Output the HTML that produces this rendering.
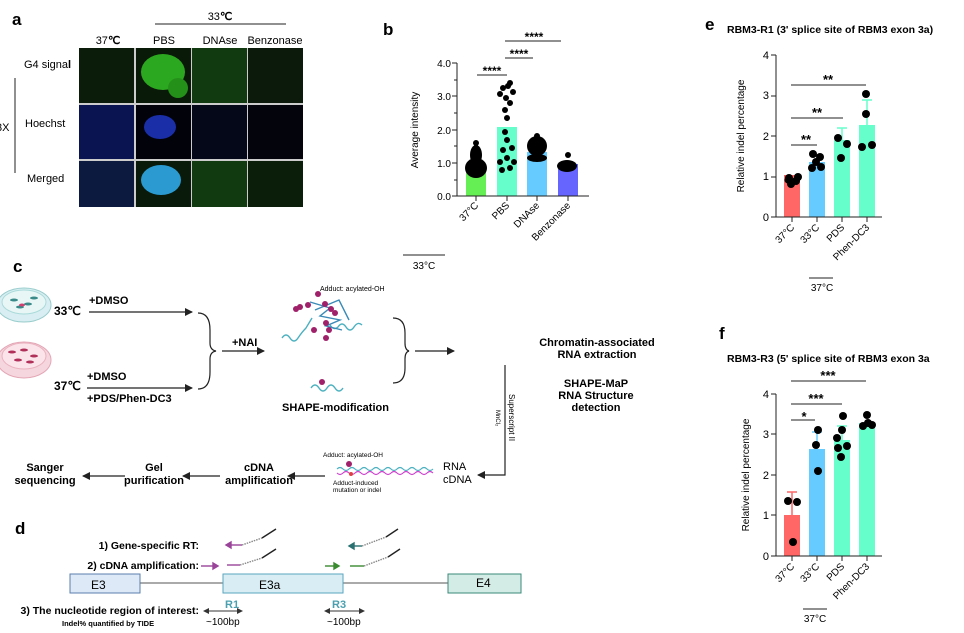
<!DOCTYPE html>
<html><head><meta charset="utf-8"><style>
html,body{margin:0;padding:0;background:#fff}
svg{display:block;font-family:"Liberation Sans",Arial,sans-serif}
.b{font-weight:bold}
</style></head><body>
<svg width="964" height="633" viewBox="0 0 964 633" xmlns="http://www.w3.org/2000/svg">
<defs>
<marker id="ah" markerWidth="8" markerHeight="8" refX="7" refY="4" orient="auto" markerUnits="userSpaceOnUse"><path d="M0,0 L8,4 L0,8 z" fill="#222"/></marker>
<marker id="dh" markerWidth="6" markerHeight="6" refX="5" refY="3" orient="auto-start-reverse" markerUnits="userSpaceOnUse"><path d="M0,0 L6,3 L0,6 z" fill="#333"/></marker>
</defs>

<!-- Panel a -->
<text x="12" y="25" font-size="17" class="b">a</text>
<line x1="155" y1="24" x2="286" y2="24" stroke="#222" stroke-width="1"/>
<text x="220" y="20" font-size="11" text-anchor="middle">33<tspan class="b">℃</tspan></text>
<text x="108" y="44" font-size="11" text-anchor="middle">37<tspan class="b">℃</tspan></text>
<text x="164" y="44" font-size="11" text-anchor="middle">PBS</text>
<text x="220" y="44" font-size="11" text-anchor="middle">DNAse</text>
<text x="275" y="44" font-size="11" text-anchor="middle">Benzonase</text>
<text x="24" y="68" font-size="11">G4 signa<tspan class="b">l</tspan></text>
<text x="25" y="127" font-size="11">Hoechst</text>
<text x="27" y="182" font-size="11">Merged</text>
<line x1="15" y1="78" x2="15" y2="173" stroke="#222"/>
<text x="-4" y="131" font-size="11">3X</text>
<rect x="79" y="48" width="224" height="159" fill="#ccc"/>
<rect x="79" y="48" width="55" height="55" fill="#0c1c0a"/>
<rect x="136" y="48" width="55" height="55" fill="#0a1a08"/>
<ellipse cx="163" cy="72" rx="22" ry="18" fill="#2ca820"/>
<ellipse cx="178" cy="88" rx="10" ry="10" fill="#24901a"/>
<rect x="192" y="48" width="55" height="55" fill="#123a10"/>
<rect x="248" y="48" width="55" height="55" fill="#0b1a0a"/>
<rect x="79" y="105" width="55" height="54" fill="#0a1450"/>
<rect x="136" y="105" width="55" height="54" fill="#02030a"/>
<ellipse cx="160" cy="127" rx="16" ry="12" fill="#1a2ea8"/>
<rect x="192" y="105" width="55" height="54" fill="#050818"/>
<rect x="248" y="105" width="55" height="54" fill="#04050c"/>
<rect x="79" y="161" width="55" height="46" fill="#0c1a40"/>
<rect x="136" y="161" width="55" height="46" fill="#0a1a0a"/>
<ellipse cx="161" cy="180" rx="20" ry="15" fill="#2a9ad0"/>
<rect x="192" y="161" width="55" height="46" fill="#123a10"/>
<rect x="248" y="161" width="55" height="46" fill="#0b1e0a"/>

<!-- Panel b -->
<text x="383" y="35" font-size="17" class="b">b</text>
<g font-size="10" text-anchor="end">
<text x="451" y="67">4.0</text><text x="451" y="100">3.0</text><text x="451" y="134">2.0</text><text x="451" y="167">1.0</text><text x="451" y="200">0.0</text></g>
<text transform="translate(418,130) rotate(-90)" font-size="10" text-anchor="middle">Average intensity</text>
<rect x="466" y="166" width="20" height="30" fill="#66ee55"/>
<rect x="497" y="127" width="20" height="69" fill="#66ffcc"/>
<rect x="527" y="152" width="20" height="44" fill="#66ccff"/>
<rect x="558" y="164" width="20" height="32" fill="#6666ff"/>
<g fill="#000">
<ellipse cx="476" cy="168" rx="11" ry="10"/><ellipse cx="476" cy="155" rx="6" ry="10"/><circle cx="476" cy="143" r="3"/>
<ellipse cx="537" cy="146" rx="10" ry="10"/><circle cx="537" cy="136" r="3"/><ellipse cx="537" cy="158" rx="10" ry="4"/>
<ellipse cx="567" cy="166" rx="10" ry="6"/><circle cx="568" cy="155" r="3"/>
<circle cx="500" cy="162" r="3"/><circle cx="514" cy="162" r="3"/><circle cx="507" cy="158" r="3"/><circle cx="503" cy="150" r="3"/><circle cx="512" cy="148" r="3"/><circle cx="507" cy="140" r="3"/><circle cx="505" cy="132" r="3"/><circle cx="507" cy="118" r="3"/><circle cx="505" cy="110" r="3"/><circle cx="510" cy="103" r="3"/><circle cx="500" cy="94" r="3"/><circle cx="513" cy="92" r="3"/><circle cx="508" cy="86" r="3"/><circle cx="503" cy="88" r="3"/><circle cx="510" cy="83" r="3"/><circle cx="506" cy="98" r="3"/><circle cx="510" cy="168" r="3"/><circle cx="502" cy="170" r="3"/></g>
<line x1="457" y1="63" x2="457" y2="196" stroke="#222"/>
<line x1="452" y1="196" x2="589" y2="196" stroke="#222"/>
<g stroke="#222"><line x1="452" y1="63" x2="457" y2="63"/><line x1="452" y1="96" x2="457" y2="96"/><line x1="452" y1="130" x2="457" y2="130"/><line x1="452" y1="163" x2="457" y2="163"/>
<line x1="454" y1="80" x2="457" y2="80"/><line x1="454" y1="113" x2="457" y2="113"/><line x1="454" y1="146" x2="457" y2="146"/><line x1="454" y1="180" x2="457" y2="180"/>
<line x1="476" y1="196" x2="476" y2="201"/><line x1="507" y1="196" x2="507" y2="201"/><line x1="537" y1="196" x2="537" y2="201"/><line x1="568" y1="196" x2="568" y2="201"/>
<line x1="477" y1="75" x2="507" y2="75"/><line x1="505" y1="58" x2="533" y2="58"/><line x1="505" y1="41" x2="561" y2="41"/>
<line x1="403" y1="255" x2="445" y2="255"/></g>
<g font-size="12" class="b" text-anchor="middle"><text x="492" y="75">****</text><text x="519" y="58">****</text><text x="534" y="41">****</text></g>
<g font-size="10" text-anchor="end">
<text transform="translate(479,206) rotate(-45)">37°C</text>
<text transform="translate(510,206) rotate(-45)">PBS</text>
<text transform="translate(540,206) rotate(-45)">DNAse</text>
<text transform="translate(571,206) rotate(-45)">Benzonase</text></g>
<text x="424" y="269" font-size="10" text-anchor="middle">33°C</text>

<!-- Panel e -->
<text x="705" y="30" font-size="17" class="b">e</text>
<text x="727" y="33" font-size="10.5" class="b">RBM3-R1 (3' splice site of RBM3 exon 3a)</text>
<text transform="translate(744,136) rotate(-90)" font-size="10" text-anchor="middle">Relative indel percentage</text>
<g font-size="11" text-anchor="end"><text x="769" y="59">4</text><text x="769" y="99">3</text><text x="769" y="140">2</text><text x="769" y="180">1</text><text x="769" y="221">0</text></g>
<rect x="784" y="175" width="16" height="42" fill="#ff6666"/>
<rect x="809" y="162" width="16" height="55" fill="#66ccff"/>
<rect x="834" y="140" width="16" height="77" fill="#66ffcc"/>
<rect x="859" y="125" width="16" height="92" fill="#66ffcc"/>
<g stroke="#66ffcc" stroke-width="1.5"><line x1="842" y1="140" x2="842" y2="128"/><line x1="837" y1="128" x2="847" y2="128"/><line x1="867" y1="125" x2="867" y2="100"/><line x1="862" y1="100" x2="872" y2="100"/></g>
<g fill="#000"><circle cx="789" cy="178" r="4"/><circle cx="796" cy="181" r="4"/><circle cx="791" cy="184" r="4"/><circle cx="798" cy="177" r="4"/><circle cx="788" cy="180" r="3.5"/>
<circle cx="813" cy="154" r="4"/><circle cx="820" cy="157" r="4"/><circle cx="812" cy="168" r="4"/><circle cx="821" cy="167" r="4"/><circle cx="816" cy="162" r="4"/>
<circle cx="838" cy="138" r="4"/><circle cx="847" cy="144" r="4"/><circle cx="841" cy="158" r="4"/>
<circle cx="866" cy="94" r="4"/><circle cx="866" cy="114" r="4"/><circle cx="862" cy="147" r="4"/><circle cx="872" cy="145" r="4"/></g>
<g stroke="#222"><line x1="776" y1="55" x2="776" y2="217"/><line x1="771" y1="217" x2="882" y2="217"/>
<line x1="771" y1="55" x2="776" y2="55"/><line x1="771" y1="96" x2="776" y2="96"/><line x1="771" y1="136" x2="776" y2="136"/><line x1="771" y1="177" x2="776" y2="177"/>
<line x1="792" y1="217" x2="792" y2="222"/><line x1="817" y1="217" x2="817" y2="222"/><line x1="842" y1="217" x2="842" y2="222"/><line x1="867" y1="217" x2="867" y2="222"/>
<line x1="791" y1="145" x2="817" y2="145"/><line x1="791" y1="118" x2="843" y2="118"/><line x1="791" y1="85" x2="866" y2="85"/>
<line x1="809" y1="278" x2="833" y2="278"/></g>
<g font-size="13" class="b" text-anchor="middle"><text x="806" y="144">**</text><text x="817" y="117">**</text><text x="828" y="84">**</text></g>
<g font-size="10" text-anchor="end">
<text transform="translate(795,228) rotate(-45)">37°C</text>
<text transform="translate(820,228) rotate(-45)">33°C</text>
<text transform="translate(845,228) rotate(-45)">PDS</text>
<text transform="translate(870,228) rotate(-45)">Phen-DC3</text></g>
<text x="822" y="291" font-size="10" text-anchor="middle">37°C</text>

<!-- Panel f -->
<text x="719" y="339" font-size="17" class="b">f</text>
<text x="727" y="362" font-size="10.5" class="b">RBM3-R3  (5' splice site of RBM3 exon 3a</text>
<text transform="translate(749,475) rotate(-90)" font-size="10" text-anchor="middle">Relative indel percentage</text>
<g font-size="11" text-anchor="end"><text x="769" y="398">4</text><text x="769" y="438">3</text><text x="769" y="479">2</text><text x="769" y="519">1</text><text x="769" y="560">0</text></g>
<rect x="784" y="515" width="16" height="41" fill="#ff6666"/>
<rect x="809" y="449" width="16" height="107" fill="#66ccff"/>
<rect x="834" y="440" width="16" height="116" fill="#66ffcc"/>
<rect x="859" y="423" width="16" height="133" fill="#66ffcc"/>
<g stroke-width="1.5"><line x1="792" y1="515" x2="792" y2="492" stroke="#ff6666"/><line x1="787" y1="492" x2="797" y2="492" stroke="#ff6666"/>
<line x1="817" y1="449" x2="817" y2="432" stroke="#66ccff"/><line x1="812" y1="432" x2="822" y2="432" stroke="#66ccff"/>
<line x1="842" y1="440" x2="842" y2="426" stroke="#66ffcc"/><line x1="837" y1="426" x2="847" y2="426" stroke="#66ffcc"/></g>
<g fill="#000"><circle cx="788" cy="501" r="4"/><circle cx="797" cy="502" r="4"/><circle cx="793" cy="542" r="4"/>
<circle cx="818" cy="430" r="4"/><circle cx="816" cy="445" r="4"/><circle cx="818" cy="471" r="4"/>
<circle cx="843" cy="416" r="4"/><circle cx="842" cy="430" r="4"/><circle cx="837" cy="438" r="4"/><circle cx="847" cy="446" r="4"/><circle cx="838" cy="448" r="4"/><circle cx="841" cy="457" r="4"/>
<circle cx="867" cy="415" r="4"/><circle cx="863" cy="426" r="4"/><circle cx="872" cy="425" r="4"/><circle cx="868" cy="423" r="4"/></g>
<g stroke="#222"><line x1="776" y1="394" x2="776" y2="556"/><line x1="771" y1="556" x2="882" y2="556"/>
<line x1="771" y1="394" x2="776" y2="394"/><line x1="771" y1="434" x2="776" y2="434"/><line x1="771" y1="475" x2="776" y2="475"/><line x1="771" y1="515" x2="776" y2="515"/>
<line x1="792" y1="556" x2="792" y2="561"/><line x1="817" y1="556" x2="817" y2="561"/><line x1="842" y1="556" x2="842" y2="561"/><line x1="867" y1="556" x2="867" y2="561"/>
<line x1="791" y1="420" x2="815" y2="420"/><line x1="791" y1="404" x2="842" y2="404"/><line x1="791" y1="381" x2="866" y2="381"/>
<line x1="803" y1="609" x2="827" y2="609"/></g>
<g font-size="13" class="b" text-anchor="middle"><text x="804" y="421">*</text><text x="816" y="403">***</text><text x="828" y="380">***</text></g>
<g font-size="10" text-anchor="end">
<text transform="translate(795,567) rotate(-45)">37°C</text>
<text transform="translate(820,567) rotate(-45)">33°C</text>
<text transform="translate(845,567) rotate(-45)">PDS</text>
<text transform="translate(870,567) rotate(-45)">Phen-DC3</text></g>
<text x="815" y="622" font-size="10" text-anchor="middle">37°C</text>

<!-- Panel c -->
<text x="13" y="272" font-size="17" class="b">c</text>
<ellipse cx="24" cy="305" rx="27" ry="17" fill="#d8eef2" stroke="#9cc" />
<ellipse cx="24" cy="302" rx="22" ry="12" fill="#e8f6f6" stroke="#aadada"/>
<g fill="#3a8a8a"><ellipse cx="14" cy="300" rx="4" ry="1.5"/><ellipse cx="28" cy="304" rx="4" ry="1.5"/><ellipse cx="34" cy="298" rx="4" ry="1.5"/><ellipse cx="20" cy="307" rx="4" ry="1.5"/></g>
<ellipse cx="22" cy="305" rx="3" ry="1.5" fill="#d04070"/>
<ellipse cx="24" cy="360" rx="27" ry="18" fill="#f6d6de" stroke="#e3a6b6"/>
<ellipse cx="24" cy="356" rx="22" ry="13" fill="#fbe4ea" stroke="#eab2c0"/>
<g fill="#b0305a"><ellipse cx="12" cy="352" rx="4" ry="1.5"/><ellipse cx="24" cy="350" rx="4" ry="1.5"/><ellipse cx="34" cy="356" rx="4" ry="1.5"/><ellipse cx="18" cy="360" rx="4" ry="1.5"/><ellipse cx="30" cy="362" rx="4" ry="1.5"/></g>
<g font-size="12" class="b"><text x="54" y="315">33℃</text><text x="54" y="390">37℃</text></g>
<g font-size="11" class="b"><text x="89" y="304">+DMSO</text><text x="87" y="380">+DMSO</text><text x="87" y="402">+PDS/Phen-DC3</text><text x="232" y="346">+NAI</text></g>
<g stroke="#222" stroke-width="1.2" fill="none">
<line x1="89" y1="312" x2="192" y2="312" marker-end="url(#ah)"/>
<line x1="87" y1="388" x2="192" y2="388" marker-end="url(#ah)"/>
<line x1="222" y1="351" x2="264" y2="351" marker-end="url(#ah)"/>
<line x1="415" y1="351" x2="454" y2="351" marker-end="url(#ah)"/>
<path d="M198,313 Q210,313 210,330 L210,343 Q210,350 216,351 Q210,352 210,359 L210,372 Q210,389 198,389"/>
<path d="M393,318 Q405,318 405,333 L405,343 Q405,350 409,351 Q405,352 405,359 L405,368 Q405,383 393,383"/>
<path d="M505,365 L505,475 L478,475" marker-end="url(#ah)"/>
<line x1="325" y1="476" x2="288" y2="476" marker-end="url(#ah)"/>
<line x1="220" y1="476" x2="183" y2="476" marker-end="url(#ah)"/>
<line x1="125" y1="476" x2="83" y2="476" marker-end="url(#ah)"/>
</g>
<!-- molecule -->
<g fill="none" stroke="#4ab0c0" stroke-width="1.4">
<path d="M282,338 q4,-6 8,0 q4,6 8,0 q4,-6 8,-10 l6,-10"/>
<path d="M330,325 q4,6 8,2 q4,-6 8,0 q4,6 8,0 q4,-6 8,-2"/>
<path d="M310,302 l20,6 l-10,8 l20,4 l-14,6 l16,4 M315,310 l24,-10 l10,20" stroke="#3a8ab8"/>
<path d="M311,388 q4,-6 8,0 q4,6 8,0 q4,-6 8,0 q4,6 8,0"/>
</g>
<g fill="#a0206a"><circle cx="318" cy="294" r="3"/><circle cx="300" cy="307" r="3"/><circle cx="296" cy="309" r="3"/><circle cx="308" cy="305" r="3"/><circle cx="325" cy="304" r="3"/><circle cx="331" cy="309" r="3"/><circle cx="335" cy="313" r="3"/><circle cx="326" cy="323" r="3"/><circle cx="314" cy="330" r="3"/><circle cx="329" cy="330" r="3"/><circle cx="326" cy="338" r="3"/><circle cx="322" cy="382" r="3"/></g>
<text x="320" y="291" font-size="7">Adduct: acylated-OH</text>
<text x="282" y="411" font-size="11" class="b">SHAPE-modification</text>
<g font-size="11" class="b" text-anchor="middle"><text x="597" y="346">Chromatin-associated</text><text x="597" y="358">RNA extraction</text>
<text x="596" y="387">SHAPE-MaP</text><text x="596" y="399">RNA Structure</text><text x="596" y="411">detection</text></g>
<text transform="translate(509,394) rotate(90)" font-size="8">Superscript II</text>
<text transform="translate(496,410) rotate(90)" font-size="6">MnCl₂</text>
<g font-size="11"><text x="443" y="470">RNA</text><text x="443" y="483">cDNA</text></g>
<g fill="none" stroke-width="1.2">
<path d="M337,469 q3,-3 6,0 t6,0 t6,0 t6,0 t6,0 t6,0 t6,0 t6,0 t6,0 t6,0 t6,0 t6,0 t6,0 t6,0 t6,0 t6,0" stroke="#4ab0c0"/>
<path d="M337,473 q3,3 6,0 t6,0 t6,0 t6,0 t6,0 t6,0 t6,0 t6,0 t6,0 t6,0 t6,0 t6,0 t6,0 t6,0 t6,0 t6,0" stroke="#cc44cc"/></g>
<circle cx="349" cy="464" r="3" fill="#a0206a"/><circle cx="351" cy="474" r="2" fill="#e04040"/>
<text x="323" y="457" font-size="6.5">Adduct: acylated-OH</text>
<text x="333" y="485" font-size="6.5">Adduct-induced</text><text x="333" y="492" font-size="6.5">mutation or indel</text>
<g font-size="11" class="b" text-anchor="middle"><text x="259" y="471">cDNA</text><text x="259" y="484">amplification</text>
<text x="154" y="471">Gel</text><text x="154" y="484">purification</text>
<text x="45" y="471">Sanger</text><text x="45" y="484">sequencing</text></g>

<!-- Panel d -->
<text x="15" y="534" font-size="17" class="b">d</text>
<g font-size="10.5" class="b" text-anchor="end"><text x="199" y="549">1) Gene-specific RT:</text><text x="199" y="569">2) cDNA amplification:</text><text x="199" y="614">3) The nucleotide region of interest:</text></g>
<text x="62" y="626" font-size="7.5" class="b">Indel% quantified by TIDE</text>
<line x1="140" y1="583" x2="448" y2="583" stroke="#555" stroke-width="1"/>
<rect x="70" y="574" width="70" height="19" fill="#dde9f7" stroke="#5a7fae"/>
<rect x="223" y="574" width="120" height="19" fill="#d8eef4" stroke="#5aa6c0"/>
<rect x="448" y="574" width="73" height="19" fill="#d4ece6" stroke="#3a8a78"/>
<g font-size="12"><text x="91" y="589">E3</text><text x="259" y="589">E3a</text><text x="476" y="587">E4</text></g>
<g font-size="11" class="b" fill="#4aa0b0"><text x="225" y="608">R1</text><text x="332" y="608">R3</text></g>
<g stroke="#333" stroke-width="1"><line x1="204" y1="611" x2="242" y2="611" marker-start="url(#dh)" marker-end="url(#dh)"/><line x1="325" y1="611" x2="364" y2="611" marker-start="url(#dh)" marker-end="url(#dh)"/></g>
<g font-size="10"><text x="206" y="625">~100bp</text><text x="327" y="625">~100bp</text></g>
<g fill="none" stroke-width="1.4">
<path d="M242,545 L226,545" stroke="#994499"/><path d="M226,545 l5,-3 v6 z" fill="#994499" stroke="#994499"/>
<path d="M242,545 L262,538" stroke="#888" stroke-dasharray="1.5,1"/><path d="M262,538 L276,529" stroke="#222"/>
<path d="M201,566 L215,566" stroke="#994499"/><path d="M218,566 l-5,-3 v6 z" fill="#994499" stroke="#994499"/>
<path d="M227,565 L240,565" stroke="#994499"/><path d="M240,565 L262,558 " stroke="#888" stroke-dasharray="1.5,1"/><path d="M262,558 L276,549" stroke="#222"/>
<path d="M362,546 L350,546" stroke="#2a7070"/><path d="M349,546 l5,-3 v6 z" fill="#2a7070" stroke="#2a7070"/>
<path d="M362,546 L386,537" stroke="#888" stroke-dasharray="1.5,1"/><path d="M386,537 L398,529" stroke="#222"/>
<path d="M325,566 L336,566" stroke="#3a8a30"/><path d="M339,566 l-5,-3 v6 z" fill="#3a8a30" stroke="#3a8a30"/>
<path d="M350,566 L364,566" stroke="#3a8a30"/><path d="M364,566 L388,557" stroke="#888" stroke-dasharray="1.5,1"/><path d="M388,557 L400,549" stroke="#222"/>
</g>
</svg>
</body></html>
